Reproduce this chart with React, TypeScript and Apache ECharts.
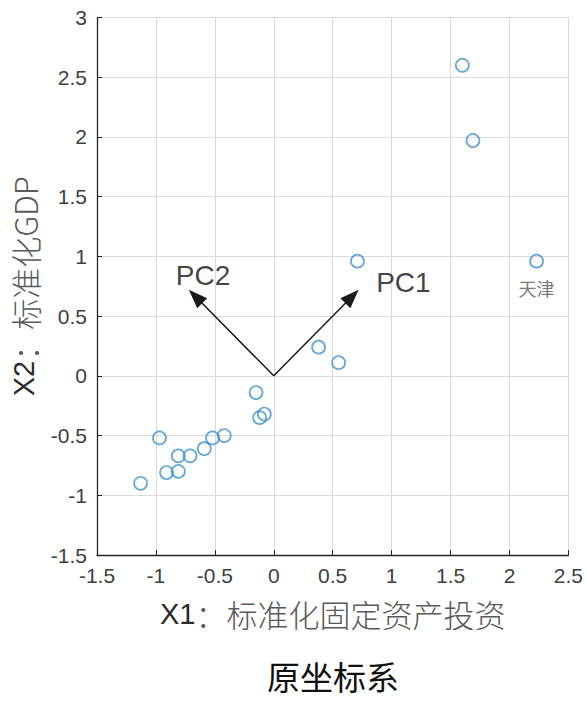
import React, { useEffect, useRef } from "react";
import * as echarts from "echarts";

// Standardized data points: X1 (fixed asset investment), X2 (GDP)
const x1Values = [1.6, 1.69, 0.71, 2.23, 0.38, 0.55, -0.15, -0.12, -0.08, -0.97, -0.42, -0.52, -0.59, -0.71, -0.81, -0.91, -0.81, -1.13];
const x2Values = [2.6, 1.97, 0.96, 0.96, 0.24, 0.11, -0.14, -0.35, -0.32, -0.52, -0.5, -0.52, -0.61, -0.67, -0.67, -0.81, -0.8, -0.9];
const pointNames = ["", "", "", "天津", "", "", "", "", "", "", "", "", "", "", "", "", "", ""];

// Principal component directions (arrow tips)
const pcNames = ["PC1", "PC2"];
const pcTips = [[0.72, 0.72], [-0.72, 0.72]];
const pcLabelPos = [[1.1, 0.78], [-0.6, 0.84]];

const xTicks = { min: -1.5, max: 2.5, interval: 0.5 };
const yTicks = { min: -1.5, max: 3, interval: 0.5 };

const xName = ["X1", "：标准化固定资产投资"];
const yName = ["X2", "：标准化GDP"];
const titleText = "原坐标系";

export default function App() {
  const ref = useRef<HTMLDivElement>(null);
  useEffect(() => {
    if (!ref.current) return;
    const chart = echarts.init(ref.current, undefined, { renderer: "svg" });
    const pts = x1Values.map((x, i) => ({ value: [x, x2Values[i]], name: pointNames[i] }));
    // shorten markLine end so the triangle tip lands on the PC tip
    const shrink = 0.056;
    const arrowData = pcTips.map((t) => [
      { coord: [0, 0], symbol: "none" },
      {
        coord: [t[0] - Math.sign(t[0]) * shrink, t[1] - Math.sign(t[1]) * shrink],
        symbol: "triangle",
        symbolSize: [14, 19],
      },
    ]);
    const axisLabelStyle = { color: "#404040", fontSize: 21, fontFamily: "Liberation Sans, Arial, sans-serif" };
    const nameRich = {
      a: { fontSize: 29, color: "#2b2b2b", fontFamily: "Liberation Sans, Arial, sans-serif" },
      b: { fontSize: 31, color: "#5a5a5a", fontFamily: "Noto Sans CJK SC", fontWeight: 300 },
    };
    chart.setOption({
      animation: false,
      backgroundColor: "#ffffff",
      graphic: [
        {
          type: "text",
          x: 333,
          y: 676,
          style: {
            text: titleText,
            fontSize: 33,
            lineHeight: 33,
            fill: "#111",
            fontFamily: "Noto Sans CJK SC",
            align: "center",
            verticalAlign: "middle",
          },
        },
      ],
      grid: { left: 97, right: 14, top: 17.5, bottom: 146, containLabel: false },
      xAxis: {
        type: "value",
        min: xTicks.min,
        max: xTicks.max,
        interval: xTicks.interval,
        name: `{a|${xName[0]}}{b|${xName[1]}}`,
        nameLocation: "middle",
        nameGap: 43,
        nameTextStyle: { rich: nameRich },
        axisLine: { onZero: false, lineStyle: { color: "#262626", width: 1.3 } },
        axisTick: { inside: true, length: 5, lineStyle: { color: "#262626" } },
        axisLabel: { ...axisLabelStyle, margin: 10 },
        splitLine: { show: true, lineStyle: { color: "#dadada", width: 1 } },
      },
      yAxis: {
        type: "value",
        min: yTicks.min,
        max: yTicks.max,
        interval: yTicks.interval,
        name: `{a|${yName[0]}}{b|${yName[1]}}`,
        nameLocation: "middle",
        nameRotate: 90,
        nameGap: 51,
        nameTextStyle: { rich: nameRich },
        axisLine: { onZero: false, lineStyle: { color: "#262626", width: 1.3 } },
        axisTick: { inside: true, length: 5, lineStyle: { color: "#262626" } },
        axisLabel: { ...axisLabelStyle, margin: 10 },
        splitLine: { show: true, lineStyle: { color: "#dadada", width: 1 } },
      },
      series: [
        {
          type: "scatter",
          symbol: "circle",
          symbolSize: 13,
          data: pts,
          itemStyle: { color: "rgba(0,0,0,0)", borderColor: "#3a8ed0", borderWidth: 1.7 },
          label: {
            show: true,
            position: "bottom",
            distance: 10,
            formatter: (p: any) => p.name,
            fontSize: 18,
            color: "#555",
            fontFamily: "Noto Sans CJK SC",
          },
          markLine: {
            silent: true,
            symbol: ["none", "triangle"],
            label: { show: false },
            lineStyle: { color: "#1a1a1a", width: 1.5, type: "solid" },
            emphasis: { disabled: true },
            data: arrowData,
          },
          z: 3,
        },
        {
          type: "scatter",
          symbolSize: 0,
          silent: true,
          data: pcNames.map((n, i) => ({ value: pcLabelPos[i], name: n })),
          label: {
            show: true,
            position: "inside",
            formatter: (p: any) => p.name,
            fontSize: 28,
            color: "#111",
            fontFamily: "Liberation Sans, Arial, sans-serif",
          },
        },
      ],
    });
    return () => chart.dispose();
  }, []);
  return (
    <div
      ref={ref}
      style={{ position: "absolute", left: 0, top: 0, width: 586, height: 701 }}
    />
  );
}
